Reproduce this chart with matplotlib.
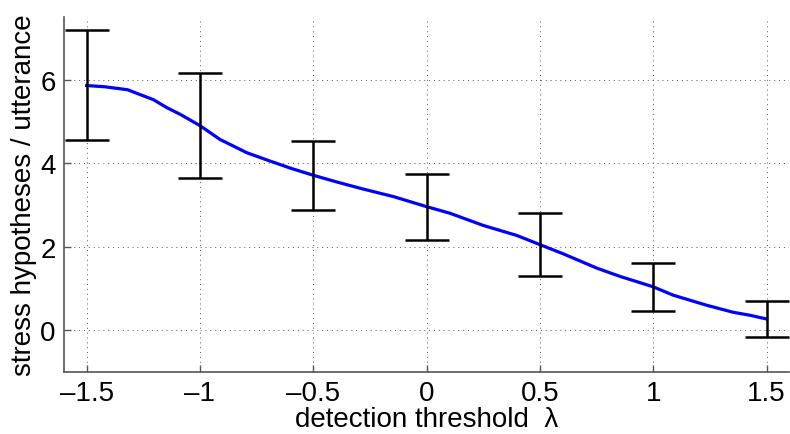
import numpy as np
import matplotlib
matplotlib.use('Agg')
import matplotlib.pyplot as plt

#-- data

# error bars at each threshold (bottom and top of the bar)
bar_x = [-1.5, -1.0, -0.5, 0.0, 0.5, 1.0, 1.5]
bar_low = [4.55, 3.64, 2.88, 2.17, 1.29, 0.46, -0.17]
bar_high = [7.19, 6.17, 4.54, 3.73, 2.80, 1.62, 0.71]

# mean curve (blue)
curve_x = [-1.5, -1.42, -1.32, -1.205, -1.146, -1.087, -1.0, -0.912, -0.793,
           -0.69, -0.6, -0.499, -0.396, -0.279, -0.146, 0.0, 0.104, 0.25,
           0.398, 0.5, 0.603, 0.75, 0.853, 1.0, 1.088, 1.235, 1.353, 1.426, 1.5]
curve_y = [5.86, 5.83, 5.76, 5.52, 5.33, 5.17, 4.90, 4.57, 4.25,
           4.05, 3.88, 3.71, 3.55, 3.38, 3.20, 2.96, 2.80, 2.51,
           2.27, 2.05, 1.83, 1.49, 1.29, 1.04, 0.84, 0.60, 0.43, 0.36, 0.27]

x_ticks = [-1.5, -1, -0.5, 0, 0.5, 1, 1.5]
x_ticklabels = ['\u20131.5', '\u20131', '\u20130.5', '0', '0.5', '1', '1.5']
y_ticks = [0, 2, 4, 6]

plt.rcParams['font.family'] = ['Liberation Sans', 'DejaVu Sans']

fig = plt.figure(figsize=(7.9, 4.35), dpi=100)
ax = fig.add_axes([0.081, 0.1425, 0.918, 0.816])

low = np.array(bar_low)
high = np.array(bar_high)
mid = (low + high) / 2.0
half = (high - low) / 2.0

ax.plot(curve_x, curve_y, color='#0000ff', linewidth=2.3, zorder=3)
ax.errorbar(bar_x, mid, yerr=half, fmt='none', ecolor='black',
            elinewidth=1.8, capsize=16, capthick=1.8, zorder=4)

ax.set_xlim(-1.6, 1.6)
ax.set_ylim(-1, 7.5)
ax.set_xticks(x_ticks)
ax.set_xticklabels(x_ticklabels)
ax.set_yticks(y_ticks)

ax.grid(True, linestyle=(0, (1, 4)), color='#555555', linewidth=0.7)
for side in ['top', 'right']:
    ax.spines[side].set_visible(False)
for side in ['left', 'bottom']:
    ax.spines[side].set_color('#555555')
    ax.spines[side].set_linewidth(1.2)
ax.tick_params(direction='in', length=5, width=1.0, color='#555555',
               labelsize=20, pad=6)

ax.set_xlabel('detection threshold  \u03bb', fontsize=20, labelpad=0)
ax.set_ylabel('stress hypotheses / utterance', fontsize=20, labelpad=2)

plt.savefig('out.png', dpi=100)
